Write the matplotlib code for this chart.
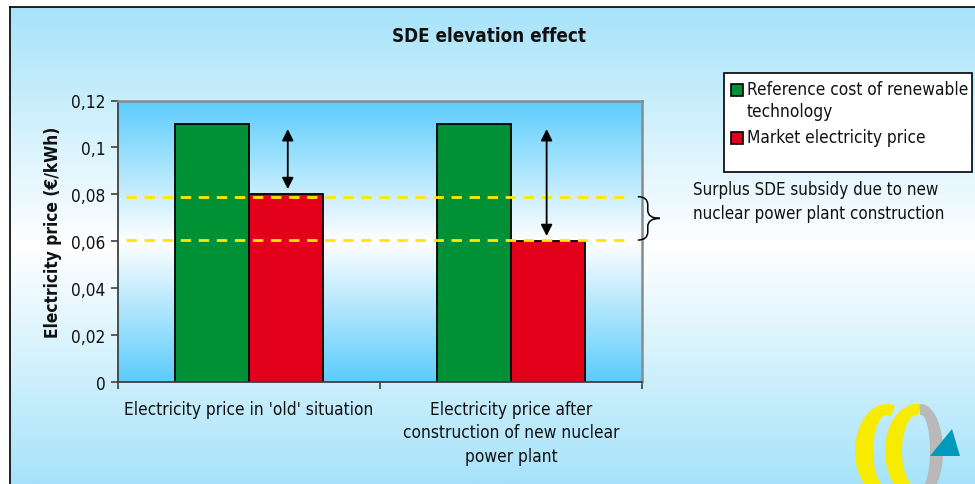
import numpy as np
import matplotlib
matplotlib.use("Agg")
import matplotlib.pyplot as plt
from matplotlib.patches import Rectangle, Polygon, PathPatch
from matplotlib.path import Path
from matplotlib.transforms import blended_transform_factory

plt.rcParams['font.family'] = ['DejaVu Sans']
plt.rcParams['font.stretch'] = 'condensed'
plt.rcParams['lines.scale_dashes'] = False

# ---------------- data ----------------
categories = ["Electricity price in 'old' situation",
              "Electricity price after\nconstruction of new nuclear\npower plant"]
series_names = ["Reference cost of renewable\ntechnology", "Market electricity price"]
reference_cost = [0.11, 0.11]
market_price = [0.08, 0.06]
series_colors = ["#009036", "#E2001A"]
y_ticks = [0, 0.02, 0.04, 0.06, 0.08, 0.10, 0.12]
y_tick_labels = ["0", "0,02", "0,04", "0,06", "0,08", "0,1", "0,12"]
dashed_levels = [0.079, 0.0605]
arrow_x = [0.148, 1.136]
title = "SDE elevation effect"
ylabel = "Electricity price (€/kWh)"
note = "Surplus SDE subsidy due to new\nnuclear power plant construction"

W, H = 975, 485
def fx(px):
    return px / W
def fy(py):
    return 1 - py / H

fig = plt.figure(figsize=(9.75, 4.85), dpi=100, facecolor='white')

# ---------------- figure background gradient ----------------
bg = fig.add_axes([fx(10), 0, 1 - fx(10), fy(8)], zorder=-10)
t = np.linspace(0, 1, 256)[:, None]
w = np.abs(t - 0.5) * 2
blue_top = np.array([166, 227, 250]) / 255
white = np.array([1.0, 1.0, 1.0])
grad = white * (1 - w[..., None]) + blue_top * w[..., None]
grad = np.repeat(grad, 2, axis=1)
bg.imshow(grad, aspect='auto', extent=[0, 1, 0, 1], origin='upper')
bg.set_xlim(0, 1); bg.set_ylim(0, 1)
bg.set_xticks([]); bg.set_yticks([])
for s in ['right', 'bottom']:
    bg.spines[s].set_visible(False)
for s in ['left', 'top']:
    bg.spines[s].set_color('black')
    bg.spines[s].set_linewidth(1.2)

# ---------------- main plot axes ----------------
ax = fig.add_axes([fx(118), fy(383), (642 - 118) / W, (383 - 101.5) / H], zorder=1)
ax.set_facecolor('none')
plot_blue = np.array([91, 204, 252]) / 255
pgrad = white * (1 - w[..., None]) + plot_blue * w[..., None]
pgrad = np.repeat(pgrad, 2, axis=1)
ax.imshow(pgrad, aspect='auto', extent=[0, 1, 0, 1], origin='upper',
          transform=ax.transAxes, zorder=0)

x = np.arange(len(categories))
bw = 0.2824
ax.bar(x - bw / 2, reference_cost, bw, color=series_colors[0], edgecolor='black',
       linewidth=1.3, zorder=2, label=series_names[0])
ax.bar(x + bw / 2, market_price, bw, color=series_colors[1], edgecolor='black',
       linewidth=1.3, zorder=2, label=series_names[1])

ax.set_xlim(-0.5, len(categories) - 0.5)
ax.set_ylim(0, 0.12)

for lvl in dashed_levels:
    ax.axhline(lvl, xmin=0.015, xmax=0.969, color='#FFE800', linewidth=2.0,
               dashes=(7.5, 5.5), zorder=3)

gap = 0.0022
for xi, top, bot in zip(arrow_x, reference_cost, market_price):
    ax.annotate('', xy=(xi, bot + gap), xytext=(xi, top - gap),
                arrowprops=dict(arrowstyle='<|-|>', color='black', lw=1.3,
                                mutation_scale=17, shrinkA=0, shrinkB=0),
                zorder=4)

# brace
bt = blended_transform_factory(ax.transAxes, ax.transData)
yt, yb = dashed_levels
ym = (yt + yb) / 2
x0, x1, x2 = 0.992, 1.011, 1.034
d = 0.0035
verts = [(x0, yt), (x1, yt), (x1, yt - d),
         (x1, ym + d), (x1, ym), (x2, ym),
         (x1, ym), (x1, ym - d),
         (x1, yb + d), (x1, yb), (x0, yb)]
codes = [Path.MOVETO, Path.CURVE3, Path.CURVE3,
         Path.LINETO, Path.CURVE3, Path.CURVE3,
         Path.CURVE3, Path.CURVE3,
         Path.LINETO, Path.CURVE3, Path.CURVE3]
ax.add_patch(PathPatch(Path(verts, codes), facecolor='none', edgecolor='black',
                       linewidth=1.1, transform=bt, clip_on=False, zorder=5))

# axes styling
ax.set_yticks(y_ticks)
ax.set_yticklabels(y_tick_labels, fontsize=12.4, color='#111111')
ax.set_xticks(x)
ax.set_xticklabels(categories, fontsize=12.4, color='#111111', linespacing=1.38)
ax.set_xticks(np.arange(-0.5, len(categories)), minor=True)
ax.tick_params(axis='x', which='major', length=0, pad=13)
ax.tick_params(axis='x', which='minor', length=5, width=1.2, color='#404040', direction='out')
ax.tick_params(axis='y', length=5, width=1.2, color='#404040', direction='out', pad=4)
for s in ['left', 'bottom']:
    ax.spines[s].set_color('#404040')
    ax.spines[s].set_linewidth(1.3)
for s in ['top', 'right']:
    ax.spines[s].set_color('#8a8a8a')
    ax.spines[s].set_linewidth(1.8)
ax.set_ylabel(ylabel, fontsize=12.4, fontweight='bold', color='#111111')
ax.yaxis.set_label_coords(-0.106, 0.535)

# title
fig.text(fx(489), fy(37), title, ha='center', va='center', fontsize=13.5,
         fontweight='bold', color='#111111')

# note
fig.text(fx(693), fy(202), note, ha='left', va='center', fontsize=12.2,
         color='#111111', linespacing=1.42)

# legend (manual)
fig.add_artist(Rectangle((fx(724), fy(173)), fx(972) - fx(724), fy(74) - fy(173),
                         transform=fig.transFigure, facecolor='white',
                         edgecolor='black', linewidth=1.2, zorder=2))
sq = 12
legend_rows_y = [91, 139]
for name, col, cy in zip(series_names, series_colors, legend_rows_y):
    fig.add_artist(Rectangle((fx(731), fy(cy + sq / 2)), sq / W, sq / H,
                             transform=fig.transFigure, facecolor=col,
                             edgecolor='black', linewidth=1.2, zorder=3))
    fig.text(fx(747), fy(cy - 10), name, ha='left', va='top', fontsize=12.4,
             color='#111111', linespacing=1.3, zorder=4)

# logo (decoration)
lg = fig.add_axes([fx(845), 0, 1 - fx(845), fy(395)], zorder=1)
lg.set_xlim(845, 975); lg.set_ylim(485, 395)
lg.axis('off')

def ring(cx, cy, ao, bo, ai, bi, th1, th2, n=80):
    th = np.radians(np.linspace(th1, th2, n))
    outer = np.c_[cx + ao * np.cos(th), cy - bo * np.sin(th)]
    inner = np.c_[cx + ai * np.cos(th[::-1]), cy - bi * np.sin(th[::-1])]
    return np.vstack([outer, inner])

lg.add_patch(Polygon(ring(921, 452, 22, 47, 9, 36, -75, 95), closed=True,
                     facecolor='#B9B9B9', edgecolor='none'))
lg.add_patch(Polygon(ring(887, 452, 32, 47, 14, 36, 75, 285), closed=True,
                     facecolor='#F7EC00', edgecolor='none'))
lg.add_patch(Polygon(ring(917, 452, 32, 47, 15, 36, 85, 280), closed=True,
                     facecolor='#F7EC00', edgecolor='none'))
lg.add_patch(Polygon([(952, 430), (930, 457), (960, 457)], closed=True,
                     facecolor='#0099BB', edgecolor='none'))

fig.savefig("out.png", dpi=100, facecolor='white')
